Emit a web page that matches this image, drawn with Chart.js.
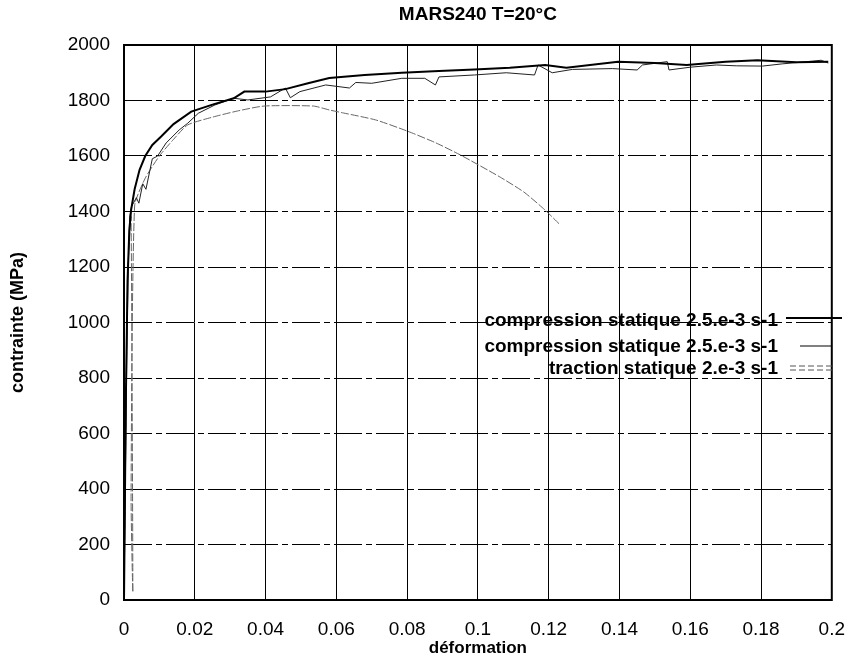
<!DOCTYPE html>
<html>
<head>
<meta charset="utf-8">
<script src="https://cdn.jsdelivr.net/npm/chart.js@4/dist/chart.umd.min.js"></script>
<style>
  html, body { margin: 0; padding: 0; background: #fff; }
  #wrap { width: 863px; height: 662px; }
</style>
</head>
<body>
<div id="wrap"><canvas id="chart" width="863" height="662"></canvas></div>
<script>
// ticks
const xTicks = [0, 0.02, 0.04, 0.06, 0.08, 0.1, 0.12, 0.14, 0.16, 0.18, 0.2];
const yTicks = [0, 200, 400, 600, 800, 1000, 1200, 1400, 1600, 1800, 2000];

// compression statique (thick, smooth)
const comp1X = [0, 0.0005, 0.001, 0.0015, 0.002, 0.003, 0.0044, 0.006, 0.008, 0.0105, 0.014, 0.019, 0.025, 0.031, 0.034, 0.040, 0.0456, 0.052, 0.058, 0.068, 0.0785, 0.089, 0.099, 0.109, 0.119, 0.125, 0.1396, 0.15, 0.159, 0.17, 0.179, 0.19, 0.199];
const comp1Y = [0, 700, 1150, 1330, 1405, 1480, 1550, 1600, 1640, 1670, 1715, 1760, 1785, 1808, 1832, 1832, 1841, 1862, 1881, 1892, 1900, 1906, 1912, 1918, 1928, 1918, 1940, 1935, 1928, 1940, 1945, 1938, 1940];

// compression statique (thin, serrated)
const comp2X = [0, 0.0004, 0.0008, 0.0012, 0.0016, 0.0021, 0.0035, 0.0042, 0.0053, 0.0062, 0.008, 0.0095, 0.0119, 0.0156, 0.018, 0.021, 0.0257, 0.031, 0.035, 0.0414, 0.0456, 0.047, 0.0497, 0.057, 0.0637, 0.0655, 0.070, 0.0785, 0.085, 0.088, 0.089, 0.099, 0.108, 0.116, 0.117, 0.121, 0.1267, 0.138, 0.145, 0.1465, 0.1535, 0.154, 0.16, 0.1674, 0.173, 0.1804, 0.186, 0.1905, 0.197, 0.199];
const comp2Y = [0, 450, 900, 1200, 1380, 1417, 1450, 1430, 1500, 1480, 1590, 1600, 1647, 1694, 1718, 1754, 1784, 1808, 1802, 1813, 1845, 1810, 1832, 1856, 1845, 1865, 1862, 1880, 1880, 1856, 1885, 1892, 1900, 1892, 1928, 1900, 1912, 1915, 1910, 1928, 1940, 1910, 1920, 1928, 1925, 1924, 1932, 1937, 1945, 1935];

// traction statique
const tracX = [0, 0.0005, 0.001, 0.0015, 0.002, 0.0025, 0.002, 0.003, 0.006, 0.01, 0.014, 0.018, 0.025, 0.032, 0.0396, 0.0535, 0.058, 0.062, 0.0711, 0.08, 0.088, 0.095, 0.106, 0.113, 0.119, 0.123];
const tracY = [0, 600, 1150, 1300, 1380, 30, 372, 1420, 1520, 1600, 1660, 1712, 1740, 1762, 1780, 1780, 1766, 1755, 1730, 1690, 1648, 1604, 1526, 1470, 1405, 1355];

const chartTitle = "MARS240 T=20°C";
const legendLabels = [
  "compression statique 2.5.e-3 s-1",
  "compression statique 2.5.e-3 s-1",
  "traction statique 2.e-3 s-1"
];

function toPoints(xs, ys) {
  return xs.map((x, i) => ({ x: x, y: ys[i] }));
}

const FONT = "'Liberation Sans', Arial, sans-serif";

// cadre, titre et légende dessinés à la main
const framePlugin = {
  id: "frame",
  afterDraw(chart) {
    const ctx = chart.ctx;
    const a = chart.chartArea;
    ctx.save();
    ctx.strokeStyle = "#000";
    ctx.lineWidth = 2;
    ctx.strokeRect(a.left, a.top, a.right - a.left, a.bottom - a.top);

    ctx.fillStyle = "#000";
    ctx.textBaseline = "middle";
    ctx.textAlign = "center";
    ctx.font = "bold 19px " + FONT;
    ctx.fillText(chartTitle, (a.left + a.right) / 2, 15);

    // légende
    ctx.font = "bold 19px " + FONT;
    ctx.textAlign = "right";
    const rows = [321, 347, 369];
    rows.forEach((y, i) => {
      ctx.fillText(legendLabels[i], 778, y);
    });
    ctx.strokeStyle = "#000";
    ctx.lineWidth = 2;
    ctx.beginPath(); ctx.moveTo(786, 318); ctx.lineTo(842, 318); ctx.stroke();
    ctx.lineWidth = 1;
    ctx.beginPath(); ctx.moveTo(800, 346); ctx.lineTo(832, 346); ctx.stroke();
    ctx.strokeStyle = "#555";
    ctx.setLineDash([6, 3]);
    ctx.beginPath(); ctx.moveTo(790, 366); ctx.lineTo(834, 366); ctx.stroke();
    ctx.beginPath(); ctx.moveTo(790, 370); ctx.lineTo(834, 370); ctx.stroke();
    ctx.restore();
  }
};

new Chart(document.getElementById("chart"), {
  type: "scatter",
  data: {
    datasets: [
      {
        label: legendLabels[0],
        data: toPoints(comp1X, comp1Y),
        showLine: true,
        borderColor: "#000",
        borderWidth: 2,
        pointRadius: 0,
        tension: 0
      },
      {
        label: legendLabels[1],
        data: toPoints(comp2X, comp2Y),
        showLine: true,
        borderColor: "#222",
        borderWidth: 1,
        pointRadius: 0,
        tension: 0
      },
      {
        label: legendLabels[2],
        data: toPoints(tracX, tracY),
        showLine: true,
        borderColor: "#666",
        borderWidth: 1,
        borderDash: [8, 2],
        pointRadius: 0,
        tension: 0.2
      }
    ]
  },
  options: {
    responsive: false,
    animation: false,
    layout: { padding: { top: 45, right: 21, bottom: 0, left: 0 } },
    plugins: {
      legend: { display: false },
      tooltip: { enabled: false }
    },
    scales: {
      x: {
        type: "linear",
        min: 0,
        max: 0.2,
        afterBuildTicks: (s) => { s.ticks = xTicks.map(v => ({ value: v })); },
        afterFit: (s) => { s.height = 62; },
        ticks: {
          color: "#000",
          padding: 18,
          font: { family: FONT, size: 19 },
          callback: (v) => String(Number(v.toFixed(2)))
        },
        grid: { color: "#000", lineWidth: 1, drawTicks: false },
        border: { display: false },
        title: {
          display: true,
          text: "déformation",
          color: "#000",
          font: { family: FONT, size: 17, weight: "bold" },
          padding: { top: 0, bottom: 3 }
        }
      },
      y: {
        min: 0,
        max: 2000,
        afterBuildTicks: (s) => { s.ticks = yTicks.map(v => ({ value: v })); },
        afterFit: (s) => { s.width = 124; },
        ticks: {
          color: "#000",
          padding: 14,
          font: { family: FONT, size: 19 },
          callback: (v) => String(v)
        },
        grid: { color: "#000", lineWidth: 1, drawTicks: false },
        border: { display: false, dash: [28, 4, 6, 4] },
        title: {
          display: true,
          text: "contrainte (MPa)",
          color: "#000",
          font: { family: FONT, size: 18, weight: "bold" },
          padding: { top: 7, bottom: 0 }
        }
      }
    }
  },
  plugins: [framePlugin]
});
</script>
</body>
</html>
